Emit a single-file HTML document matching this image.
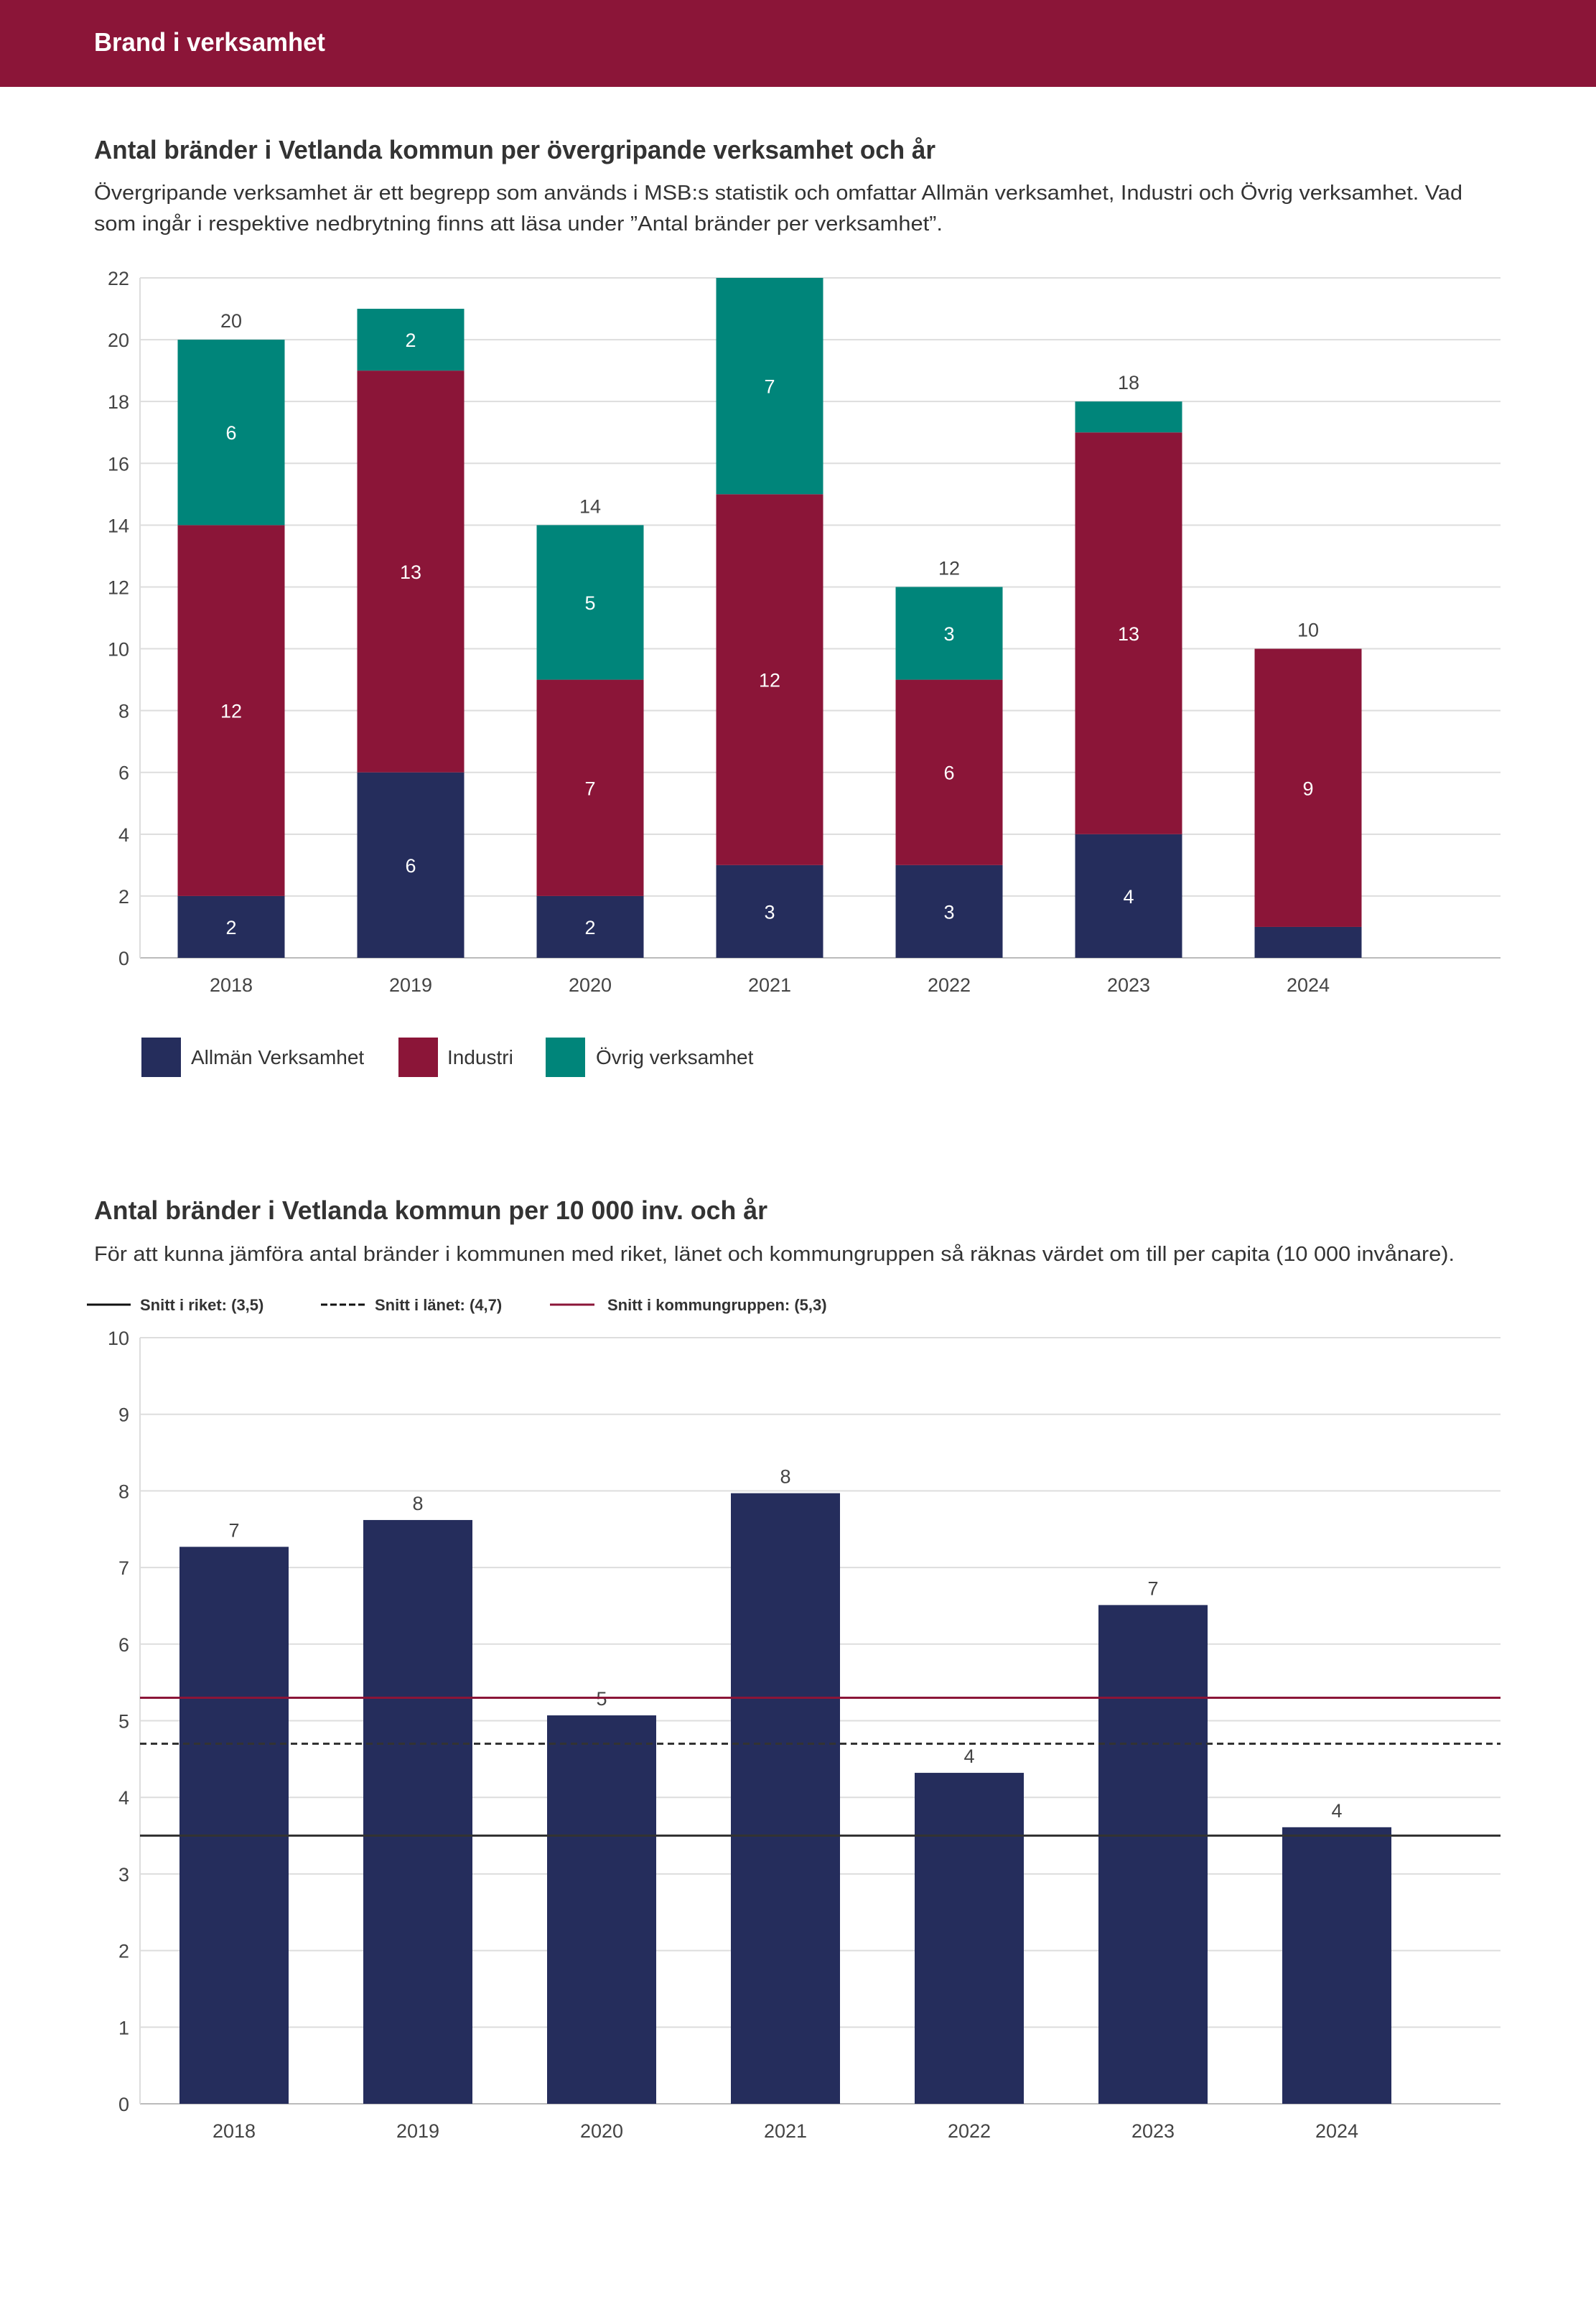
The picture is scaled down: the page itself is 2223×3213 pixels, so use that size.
<!DOCTYPE html>
<html><head><meta charset="utf-8">
<style>
body{margin:0;background:#fff;font-family:"Liberation Sans",sans-serif;}
svg{display:block}
text{font-family:"Liberation Sans",sans-serif;}
</style></head>
<body>
<svg id="page" width="2223" height="3213" viewBox="0 0 2223 3213" xmlns="http://www.w3.org/2000/svg">
<rect x="0" y="0" width="2223" height="121" fill="#8b1538"/>
<text x="131" y="71" font-size="36" font-weight="bold" fill="#fff" textLength="322" lengthAdjust="spacingAndGlyphs">Brand i verksamhet</text>

<text x="131" y="221" font-size="36" font-weight="bold" fill="#333" textLength="1172" lengthAdjust="spacingAndGlyphs">Antal bränder i Vetlanda kommun per övergripande verksamhet och år</text>
<text x="131" y="278" font-size="29" fill="#333" textLength="1906" lengthAdjust="spacingAndGlyphs">Övergripande verksamhet är ett begrepp som används i MSB:s statistik och omfattar Allmän verksamhet, Industri och Övrig verksamhet. Vad</text>
<text x="131" y="321" font-size="29" fill="#333" textLength="1182" lengthAdjust="spacingAndGlyphs">som ingår i respektive nedbrytning finns att läsa under ”Antal bränder per verksamhet”.</text>
<g id="chart1"></g>

<g>
<rect x="197" y="1445" width="55" height="55" fill="#252d5c"/>
<text x="266" y="1482" font-size="28" fill="#333">Allmän Verksamhet</text>
<rect x="555" y="1445" width="55" height="55" fill="#8b1538"/>
<text x="623" y="1482" font-size="28" fill="#333">Industri</text>
<rect x="760" y="1445" width="55" height="55" fill="#00857a"/>
<text x="830" y="1482" font-size="28" fill="#333">Övrig verksamhet</text>
</g>

<text x="131" y="1698" font-size="36" font-weight="bold" fill="#333" textLength="938" lengthAdjust="spacingAndGlyphs">Antal bränder i Vetlanda kommun per 10 000 inv. och år</text>
<text x="131" y="1756" font-size="29" fill="#333" textLength="1895" lengthAdjust="spacingAndGlyphs">För att kunna jämföra antal bränder i kommunen med riket, länet och kommungruppen så räknas värdet om till per capita (10 000 invånare).</text>
<g>
<line x1="121" y1="1817" x2="182" y2="1817" stroke="#111" stroke-width="3"/>
<text x="195" y="1825" font-size="22" font-weight="bold" fill="#333">Snitt i riket: (3,5)</text>
<line x1="447" y1="1817" x2="508" y2="1817" stroke="#111" stroke-width="3" stroke-dasharray="9,4"/>
<text x="522" y="1825" font-size="22" font-weight="bold" fill="#333">Snitt i länet: (4,7)</text>
<line x1="766" y1="1817" x2="828" y2="1817" stroke="#8b1538" stroke-width="3"/>
<text x="846" y="1825" font-size="22" font-weight="bold" fill="#333">Snitt i kommungruppen: (5,3)</text>
</g>
<g id="chart2"></g>
</svg>
<script>
const years = ["2018","2019","2020","2021","2022","2023","2024"];
const allman = [2,6,2,3,3,4,1];
const industri = [12,13,7,12,6,13,9];
const ovrig = [6,2,5,7,3,1,0];
const ticks1 = [0,2,4,6,8,10,12,14,16,18,20,22];
const perCapita = [7.27,7.62,5.07,7.97,4.32,6.51,3.61];
const perCapitaLabels = ["7","8","5","8","4","7","4"];
const ticks2 = [0,1,2,3,4,5,6,7,8,9,10];
const refRiket = 3.5;
const refLanet = 4.7;
const refKommungrupp = 5.3;

const NS = "http://www.w3.org/2000/svg";
function mk(parent, tag, attrs, txt){
  const e = document.createElementNS(NS, tag);
  for (const k in attrs) e.setAttribute(k, attrs[k]);
  if (txt !== undefined) e.textContent = txt;
  parent.appendChild(e);
  return e;
}

// Chart 1
(function(){
  const g = document.getElementById('chart1');
  const L = 195, R = 2090, y0 = 1334, yTop = 387, yMax = 22;
  const bandStart = 197, band = 250, bw = 149;
  const y = v => y0 - (v / yMax) * (y0 - yTop);
  const xc = i => bandStart + band * i + band / 2;
  ticks1.forEach(t => {
    const ln = mk(g, 'line', {x1:L, x2:R, y1:y(t), y2:y(t), stroke: t===0?'#bbb':'#ddd', 'stroke-width':2});
    
    
    const tx = mk(g, 'text', {x:180, y:y(t)+10, 'font-size':27, fill:'#444', 'text-anchor':'end'}, t);
    
    
  });
  const ax = mk(g, 'line', {x1:L, x2:L, y1:yTop, y2:y0, stroke:'#ddd', 'stroke-width':2});
  
  
  const series = [[allman,'#252d5c','allman'],[industri,'#8b1538','industri'],[ovrig,'#00857a','ovrig']];
  years.forEach((yr, i) => {
    let base = 0;
    series.forEach(([arr, col, nm]) => {
      const v = arr[i];
      if (v > 0) {
        const r = mk(g, 'rect', {x:xc(i)-bw/2, y:y(base+v), width:bw, height:y(base)-y(base+v), fill:col});
        
        
        if (v >= 2) {
          const t = mk(g, 'text', {x:xc(i), y:(y(base)+y(base+v))/2+10, 'font-size':27, fill:'#fff', 'text-anchor':'middle'}, v);
          
          
        }
      }
      base += v;
    });
    if (base < 21) {
      const t = mk(g, 'text', {x:xc(i), y:y(base)-17, 'font-size':27, fill:'#444', 'text-anchor':'middle'}, base);
      
      
    }
    const xl = mk(g, 'text', {x:xc(i), y:1381, 'font-size':27, fill:'#444', 'text-anchor':'middle'}, yr);
    
    
  });
})();

// Chart 2
(function(){
  const g = document.getElementById('chart2');
  const L = 195, R = 2090, y0 = 2930, yTop = 1863, yMax = 10;
  const bandStart = 198, band = 256, bw = 152;
  const y = v => y0 - (v / yMax) * (y0 - yTop);
  const xc = i => bandStart + band * i + band / 2;
  ticks2.forEach(t => {
    const ln = mk(g, 'line', {x1:L, x2:R, y1:y(t), y2:y(t), stroke: t===0?'#bbb':'#ddd', 'stroke-width':2});
    
    
    const tx = mk(g, 'text', {x:180, y:y(t)+10, 'font-size':27, fill:'#444', 'text-anchor':'end'}, t);
    
    
  });
  const ax = mk(g, 'line', {x1:L, x2:L, y1:yTop, y2:y0, stroke:'#ddd', 'stroke-width':2});
  
  
  years.forEach((yr, i) => {
    const v = perCapita[i];
    const r = mk(g, 'rect', {x:xc(i)-bw/2, y:y(v), width:bw, height:y0-y(v), fill:'#252d5c'});
    
    
    const t = mk(g, 'text', {x:xc(i), y:y(v)-14, 'font-size':27, fill:'#444', 'text-anchor':'middle'}, perCapitaLabels[i]);
    
    
    const xl = mk(g, 'text', {x:xc(i), y:2977, 'font-size':27, fill:'#444', 'text-anchor':'middle'}, yr);
    
    
  });
  const l1 = mk(g, 'line', {x1:L, x2:R, y1:y(refKommungrupp), y2:y(refKommungrupp), stroke:'#8b1538', 'stroke-width':3});
  
  
  const l2 = mk(g, 'line', {x1:L, x2:R, y1:y(refLanet), y2:y(refLanet), stroke:'#333', 'stroke-width':3, 'stroke-dasharray':'9,6'});
  
  
  const l3 = mk(g, 'line', {x1:L, x2:R, y1:y(refRiket), y2:y(refRiket), stroke:'#333', 'stroke-width':3});
  
  
})();
</script>
</body></html>
